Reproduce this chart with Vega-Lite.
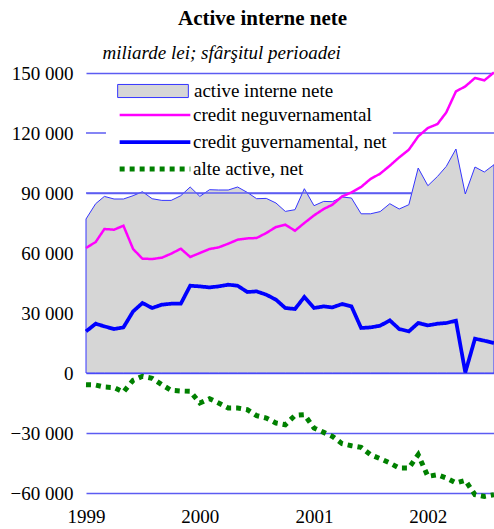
{
  "$schema": "https://vega.github.io/schema/vega-lite/v6.json",
  "autosize": "none",
  "width": 408,
  "height": 420,
  "padding": {"left": 86, "top": 73, "right": 0, "bottom": 36},
  "background": "white",
  "config": {"view": {"stroke": null}, "font": "Liberation Serif"},
  "title": {
    "text": "Active interne nete",
    "font": "Liberation Serif",
    "fontSize": 21,
    "fontWeight": "bold",
    "color": "black",
    "anchor": "start",
    "frame": "group",
    "dx": 92,
    "offset": 14
  },
  "data": {
    "values": [
      {"d": "1999-01-01", "a": 77000, "n": 62500, "g": 20800, "o": -5850},
      {"d": "1999-02-01", "a": 84650, "n": 65500, "g": 24650, "o": -6000},
      {"d": "1999-03-01", "a": 88300, "n": 72000, "g": 23300, "o": -7000},
      {"d": "1999-04-01", "a": 87000, "n": 71650, "g": 22000, "o": -7300},
      {"d": "1999-05-01", "a": 87000, "n": 73650, "g": 22800, "o": -9500},
      {"d": "1999-06-01", "a": 88650, "n": 62000, "g": 30800, "o": -3650},
      {"d": "1999-07-01", "a": 90650, "n": 57150, "g": 35000, "o": -1650},
      {"d": "1999-08-01", "a": 87150, "n": 57000, "g": 32500, "o": -2650},
      {"d": "1999-09-01", "a": 86300, "n": 57650, "g": 34150, "o": -5850},
      {"d": "1999-10-01", "a": 86300, "n": 59650, "g": 34650, "o": -8650},
      {"d": "1999-11-01", "a": 88650, "n": 62150, "g": 34650, "o": -9000},
      {"d": "1999-12-01", "a": 93000, "n": 58000, "g": 43650, "o": -9150},
      {"d": "2000-01-01", "a": 88300, "n": 60000, "g": 43300, "o": -15000},
      {"d": "2000-02-01", "a": 91650, "n": 62000, "g": 42800, "o": -12850},
      {"d": "2000-03-01", "a": 91500, "n": 62800, "g": 43300, "o": -15000},
      {"d": "2000-04-01", "a": 91500, "n": 64650, "g": 44150, "o": -17500},
      {"d": "2000-05-01", "a": 93000, "n": 66650, "g": 43650, "o": -17500},
      {"d": "2000-06-01", "a": 90300, "n": 67300, "g": 40500, "o": -18350},
      {"d": "2000-07-01", "a": 87150, "n": 67500, "g": 40800, "o": -21350},
      {"d": "2000-08-01", "a": 87300, "n": 70000, "g": 39150, "o": -22500},
      {"d": "2000-09-01", "a": 85000, "n": 73000, "g": 36650, "o": -25000},
      {"d": "2000-10-01", "a": 80800, "n": 74150, "g": 32500, "o": -25850},
      {"d": "2000-11-01", "a": 81650, "n": 71150, "g": 32000, "o": -21200},
      {"d": "2000-12-01", "a": 92150, "n": 75000, "g": 38000, "o": -20850},
      {"d": "2001-01-01", "a": 83650, "n": 78800, "g": 32500, "o": -27500},
      {"d": "2001-02-01", "a": 85800, "n": 82000, "g": 33300, "o": -29700},
      {"d": "2001-03-01", "a": 85650, "n": 84150, "g": 32800, "o": -31700},
      {"d": "2001-04-01", "a": 88000, "n": 88300, "g": 34500, "o": -35350},
      {"d": "2001-05-01", "a": 87500, "n": 90300, "g": 33300, "o": -36350},
      {"d": "2001-06-01", "a": 79600, "n": 93000, "g": 22500, "o": -37200},
      {"d": "2001-07-01", "a": 79600, "n": 97000, "g": 22800, "o": -40850},
      {"d": "2001-08-01", "a": 80700, "n": 99650, "g": 23650, "o": -42850},
      {"d": "2001-09-01", "a": 84650, "n": 103650, "g": 26300, "o": -45000},
      {"d": "2001-10-01", "a": 82000, "n": 107800, "g": 22000, "o": -47500},
      {"d": "2001-11-01", "a": 84150, "n": 111650, "g": 20800, "o": -47500},
      {"d": "2001-12-01", "a": 102500, "n": 118300, "g": 25000, "o": -40850},
      {"d": "2002-01-01", "a": 93650, "n": 122500, "g": 23800, "o": -51700},
      {"d": "2002-02-01", "a": 98300, "n": 124500, "g": 24650, "o": -50850},
      {"d": "2002-03-01", "a": 103300, "n": 130300, "g": 25000, "o": -52500},
      {"d": "2002-04-01", "a": 112000, "n": 140800, "g": 26150, "o": -55000},
      {"d": "2002-05-01", "a": 89500, "n": 143300, "g": 300, "o": -53700},
      {"d": "2002-06-01", "a": 103000, "n": 147500, "g": 17150, "o": -60850},
      {"d": "2002-07-01", "a": 100500, "n": 146300, "g": 16150, "o": -61700},
      {"d": "2002-08-01", "a": 104150, "n": 150300, "g": 15000, "o": -60850}
    ]
  },
  "encoding": {
    "x": {
      "field": "d",
      "type": "temporal",
      "scale": {"type": "utc", "nice": false},
      "axis": {
        "values": [
          {"year": 1999, "month": 1, "date": 1, "utc": true},
          {"year": 2000, "month": 1, "date": 1, "utc": true},
          {"year": 2001, "month": 1, "date": 1, "utc": true},
          {"year": 2002, "month": 1, "date": 1, "utc": true}
        ],
        "format": "%Y",
        "formatType": "utc",
        "title": null,
        "domain": false,
        "ticks": false,
        "grid": false,
        "labelFlush": false,
        "labelOverlap": false,
        "labelFont": "Liberation Serif",
        "labelFontSize": 19,
        "labelColor": "black",
        "labelPadding": 14
      }
    },
    "y": {
      "field": "v",
      "type": "quantitative",
      "scale": {"domain": [-60000, 150000], "nice": false},
      "axis": {
        "values": [-60000, -30000, 0, 30000, 60000, 90000, 120000, 150000],
        "labelExpr": "replace(format(datum.value, ','), ',', ' ')",
        "domain": false,
        "ticks": false,
        "grid": true,
        "gridColor": "#5c5cf2",
        "gridWidth": 1.5,
        "gridOpacity": {"condition": {"test": "datum.value === 120000", "value": 0}, "value": 1},
        "labelFont": "Liberation Serif",
        "labelFontSize": 19,
        "labelColor": "black",
        "labelPadding": 13,
        "labelOverlap": false,
        "title": "miliarde lei; sfârşitul perioadei",
        "titleFont": "Liberation Serif",
        "titleFontSize": 19,
        "titleFontStyle": "italic",
        "titleFontWeight": "normal",
        "titleColor": "black",
        "titleAngle": 0,
        "titleAlign": "left",
        "titleBaseline": "alphabetic",
        "titleX": 16,
        "titleY": -15
      }
    }
  },
  "layer": [
    {
      "transform": [{"fold": ["a", "n", "g", "o"], "as": ["s", "v"]}, {"filter": "datum.s === 'a'"}],
      "mark": {"type": "area", "stroke": "#3535ff", "strokeWidth": 1, "fillOpacity": 1, "opacity": 1},
      "encoding": {
        "fill": {
          "field": "s",
          "type": "nominal",
          "scale": {"domain": ["a"], "range": ["#d6d6d6"]},
          "legend": {
            "orient": "none",
            "legendX": 25,
            "legendY": 3,
            "title": null,
            "padding": 6,
            "symbolType": "M-1,-0.185H1V0.185H-1Z",
            "symbolSize": 5000,
            "symbolStrokeColor": "#3535ff",
            "symbolStrokeWidth": 1,
            "symbolOpacity": 1,
            "clipHeight": 18,
            "labelOffset": 5,
            "labelLimit": 300,
            "labelFont": "Liberation Serif",
            "labelFontSize": 19,
            "labelColor": "black",
            "labelExpr": "'active interne nete'"
          }
        }
      }
    },
    {
      "data": {
        "values": [
          {"d": "1999-01-01", "d2": "1999-03-06", "v": 120000},
          {"d": "2001-09-11", "d2": "2002-08-01", "v": 120000},
          {"d": "1999-01-01", "d2": "2001-11-10", "v": 90000}
        ]
      },
      "mark": {"type": "rule", "color": "#5c5cf2", "strokeWidth": 1.5},
      "encoding": {
        "x2": {"field": "d2"}
      }
    },
    {
      "mark": {"type": "rule", "color": "#1f1fff", "strokeWidth": 2},
      "encoding": {"y": {"datum": 0}, "x": {"value": 0}, "x2": {"value": 408}}
    },
    {
      "transform": [{"fold": ["a", "n", "g", "o"], "as": ["s", "v"]}, {"filter": "datum.s !== 'a'"}],
      "mark": {"type": "line", "strokeCap": "butt", "strokeJoin": "miter"},
      "encoding": {
        "stroke": {
          "field": "s",
          "type": "nominal",
          "scale": {"domain": ["n", "g", "o"], "range": ["#ff00ff", "#0000ff", "#008000"]},
          "legend": {
            "orient": "none",
            "legendX": 26,
            "legendY": 28,
            "title": null,
            "padding": 5,
            "symbolType": "stroke",
            "symbolSize": 5000,
            "symbolOpacity": 1,
            "clipHeight": 18,
            "rowPadding": 8,
            "labelOffset": 0,
            "labelLimit": 300,
            "labelFont": "Liberation Serif",
            "labelFontSize": 19,
            "labelColor": "black",
            "labelExpr": "datum.value === 'n' ? 'credit neguvernamental' : datum.value === 'g' ? 'credit guvernamental, net' : 'alte active, net'"
          }
        },
        "strokeWidth": {
          "field": "s",
          "type": "nominal",
          "scale": {"domain": ["n", "g", "o"], "range": [2.5, 5, 3]},
          "legend": {
            "orient": "none",
            "legendX": 26,
            "legendY": 28,
            "title": null,
            "padding": 5,
            "symbolType": "stroke",
            "symbolSize": 5000,
            "clipHeight": 18,
            "rowPadding": 8,
            "labelOffset": 0,
            "labelLimit": 300,
            "labelFont": "Liberation Serif",
            "labelFontSize": 19,
            "labelColor": "black",
            "labelExpr": "datum.value === 'n' ? 'credit neguvernamental' : datum.value === 'g' ? 'credit guvernamental, net' : 'alte active, net'"
          }
        },
        "strokeDash": {
          "field": "s",
          "type": "nominal",
          "scale": {"domain": ["n", "g", "o"], "range": [[1, 0], [1, 0], [5, 5]]},
          "legend": {
            "orient": "none",
            "legendX": 26,
            "legendY": 28,
            "title": null,
            "padding": 5,
            "symbolType": "stroke",
            "symbolSize": 5000,
            "clipHeight": 18,
            "rowPadding": 8,
            "labelOffset": 0,
            "labelLimit": 300,
            "labelFont": "Liberation Serif",
            "labelFontSize": 19,
            "labelColor": "black",
            "labelExpr": "datum.value === 'n' ? 'credit neguvernamental' : datum.value === 'g' ? 'credit guvernamental, net' : 'alte active, net'"
          }
        }
      }
    }
  ]
}
